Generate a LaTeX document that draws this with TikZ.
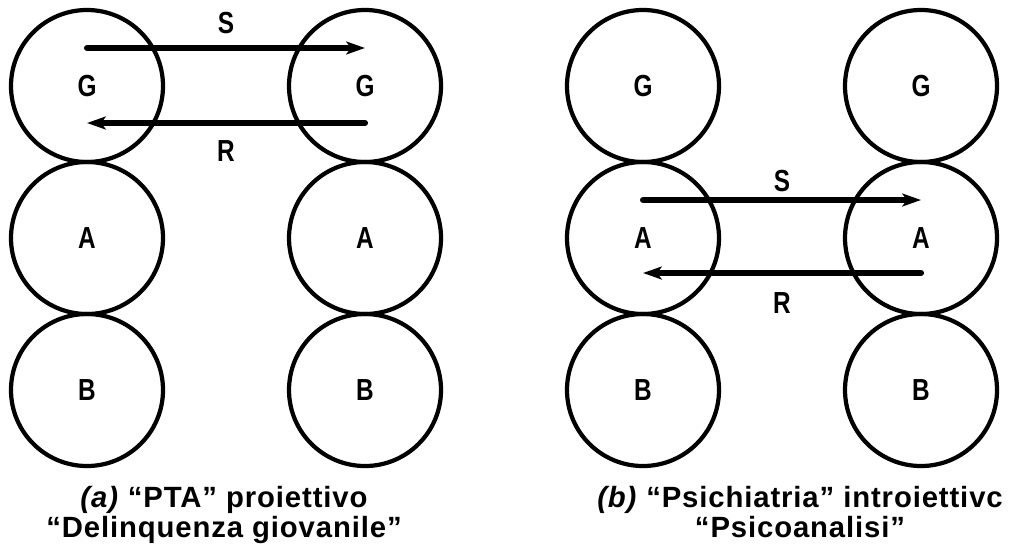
\documentclass[tikz,border=0pt]{standalone}
\usepackage{fontspec}
\setmainfont{Liberation Sans}
\newfontfamily\capfont[LetterSpace=3]{Liberation Sans}
\newfontfamily\lblfont[FakeStretch=0.8]{Liberation Sans Bold}
\usetikzlibrary{arrows.meta}

\begin{document}
\begin{tikzpicture}[x=0.03cm,y=-0.03cm,node distance=4.56cm,
    blob/.style={circle,draw,line width=3.6pt,minimum size=4.56cm,inner sep=0pt,
        font=\lblfont\fontsize{26}{30}\selectfont},
    flow/.style={line width=5.2pt,line cap=round,-{Stealth[length=16pt,width=11pt,inset=4pt]}},
    lbl/.style={font=\lblfont\fontsize{26}{30}\selectfont},
    caption/.style={font=\capfont\bfseries\fontsize{25}{30}\selectfont,anchor=base}]

    \useasboundingbox (0,0) rectangle (1010,555);

    % (a) proiettivo
    \node[blob] (aGl) at (87,86) {G};
    \node[blob] (aAl) [below of = aGl] {A};
    \node[blob] (aBl) [below of = aAl] {B};
    \node[blob] (aGr) [right of = aGl, node distance=8.34cm] {G};
    \node[blob] (aAr) [below of = aGr] {A};
    \node[blob] (aBr) [below of = aAr] {B};

    \draw[flow] ([yshift=1.14cm]aGl.center) -- node[lbl,yshift=0.76cm] {S} ([yshift=1.14cm]aGr.center);
    \draw[flow] ([yshift=-1.11cm]aGr.center) -- node[lbl,yshift=-0.83cm] {R} ([yshift=-1.11cm]aGl.center);

    % (b) introiettivo
    \node[blob] (bGl) at (643,86) {G};
    \node[blob] (bAl) [below of = bGl] {A};
    \node[blob] (bBl) [below of = bAl] {B};
    \node[blob] (bGr) [right of = bGl, node distance=8.34cm] {G};
    \node[blob] (bAr) [below of = bGr] {A};
    \node[blob] (bBr) [below of = bAr] {B};

    \draw[flow] ([yshift=1.14cm]bAl.center) -- node[lbl,yshift=0.57cm] {S} ([yshift=1.14cm]bAr.center);
    \draw[flow] ([yshift=-1.05cm]bAr.center) -- node[lbl,yshift=-0.9cm] {R} ([yshift=-1.05cm]bAl.center);

    % captions
    \node[caption] (capA1) at (224,507) {\textit{(a)} “PTA” proiettivo};
    \node[caption] (capA2) at (224,537) {“Delinquenza giovanile”};
    \node[caption] (capB1) at (800,507) {\textit{(b)} “Psichiatria” introiettivc};
    \node[caption] (capB2) at (800,537) {“Psicoanalisi”};
\end{tikzpicture}
\end{document}
